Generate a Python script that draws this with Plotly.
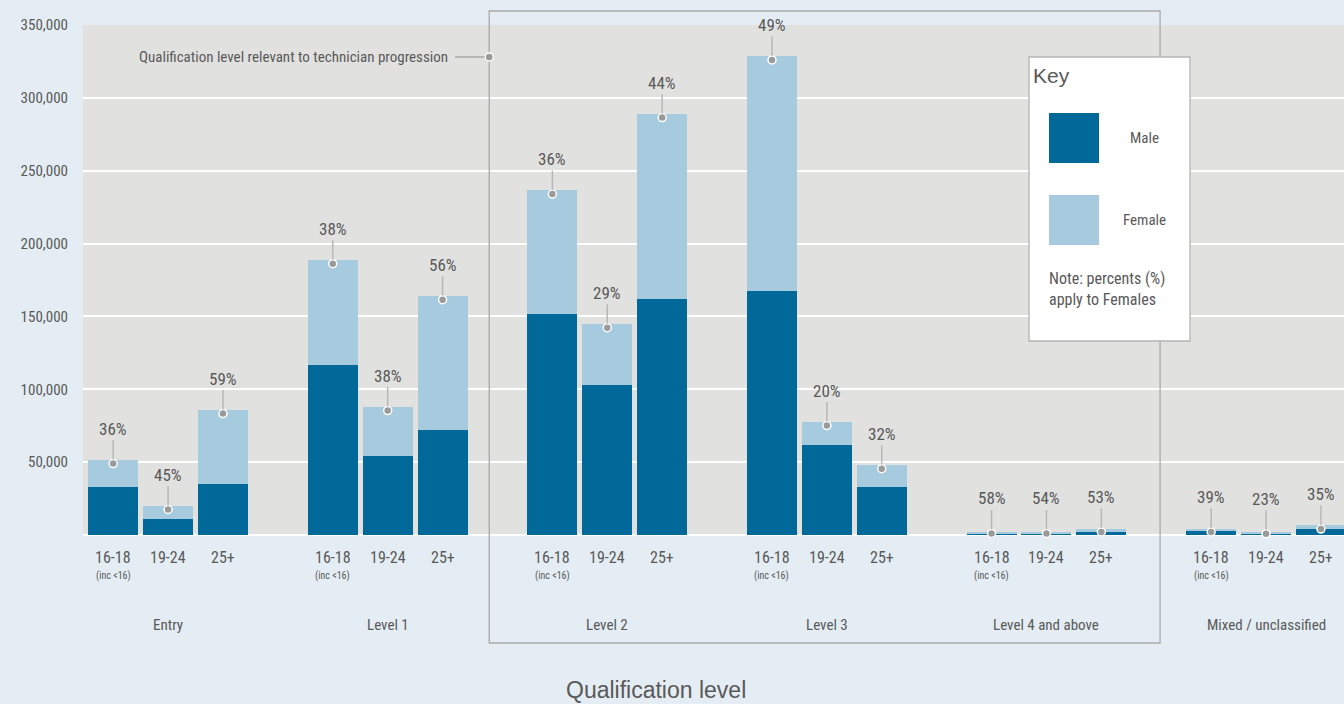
import plotly.graph_objects as go

# ---- data -------------------------------------------------------------
groups = ["Entry", "Level 1", "Level 2", "Level 3", "Level 4 and above", "Mixed / unclassified"]
ages = ["16-18", "19-24", "25+"]
# total learners per group/age band (Entry..Mixed, each 16-18, 19-24, 25+)
totals = [51500, 20000, 85800,
          188700, 87900, 164000,
          236500, 144800, 289000,
          328500, 77600, 48000,
          2200, 2200, 4100,
          4100, 1550, 6600]
# share of females, %
female_pct = [36, 45, 59,
              38, 38, 56,
              36, 29, 44,
              49, 20, 32,
              58, 54, 53,
              39, 23, 35]
y_ticks = [50000, 100000, 150000, 200000, 250000, 300000, 350000]

female = [round(t * p / 100) for t, p in zip(totals, female_pct)]
male = [t - f for t, f in zip(totals, female)]
xpos = [g * 4 + a for g in range(len(groups)) for a in range(len(ages))]
age_lbl = [ages[a] for g in range(len(groups)) for a in range(len(ages))]

# ---- styling ----------------------------------------------------------
DARK = "#01689a"
LIGHT = "#a6cbdf"
TXT = "#595959"
COND = "Roboto Condensed, DejaVu Sans Condensed, sans-serif"
REG = "Liberation Sans, Arial, sans-serif"

W, H = 1344, 704
ML, MR, MT, MB = 83, 0, 25, 169
PW, PH = W - ML - MR, H - MT - MB
XMIN, XMAX = -0.55, 22.42
YMAX = 350000


def py(pix):
    """pixel row -> paper y"""
    return (H - MB - pix) / PH


def px(pix):
    """pixel column -> paper x"""
    return (pix - ML) / PW


def xd2p(v):
    """data x -> paper x"""
    return (v - XMIN) / (XMAX - XMIN)


def label(x, y, text, size, xref="paper", xanchor="center", family=COND, **kw):
    return dict(x=x, y=y, xref=xref, yref="paper", text=text, showarrow=False,
                xanchor=xanchor, yanchor="middle",
                font=dict(family=family, size=size, color=TXT), **kw)


fig = go.Figure()
fig.add_bar(x=xpos, y=male, name="Male", marker=dict(color=DARK, line_width=0), width=0.91)
fig.add_bar(x=xpos, y=female, name="Female", marker=dict(color=LIGHT, line_width=0), width=0.91)

# marker dots near the top of each stack
dot_y = [max(t - 2500, t * 0.5) for t in totals]
fig.add_scatter(x=xpos, y=dot_y, mode="markers", cliponaxis=False,
                marker=dict(size=8, color="#9a9a9a", line=dict(color="white", width=1.5)),
                hoverinfo="skip")

ann = []
for x, yv, p in zip(xpos, dot_y, female_pct):
    ann.append(dict(x=x, y=yv, xref="x", yref="y", text=f"{p}%", showarrow=True,
                    arrowhead=0, arrowwidth=1.5, arrowcolor="#b8b8b8", ax=0, ay=-35,
                    standoff=4, font=dict(family=COND, size=17, color=TXT)))

# age band labels under each bar
for x, lab in zip(xpos, age_lbl):
    ann.append(label(x, py(557), lab, 16, xref="x"))
    if lab == "16-18":
        ann.append(label(x, py(576), "(inc <16)", 10, xref="x"))

# group labels
for g, name in enumerate(groups):
    ann.append(label(g * 4 + 1, py(625), name, 15, xref="x"))

# axis title
ann.append(label(px(656), py(690), "Qualification level", 23, family=REG))

# highlight box for technician progression levels
box_x0, box_x1 = xd2p(6.85), xd2p(19.07)
box_top, box_bot = py(11), py(643)
shapes = [dict(type="rect", xref="paper", yref="paper", x0=box_x0, x1=box_x1,
               y0=box_bot, y1=box_top, line=dict(color="#a9a9a9", width=1.3), layer="above")]
shapes.append(dict(type="line", xref="paper", yref="paper", x0=px(455), x1=box_x0,
                   y0=py(57), y1=py(57), line=dict(color="#a9a9a9", width=1.3)))
shapes.append(dict(type="circle", xref="paper", yref="paper",
                   x0=box_x0 - 4 / PW, x1=box_x0 + 4 / PW, y0=py(57) - 4 / PH, y1=py(57) + 4 / PH,
                   fillcolor="#9a9a9a", line=dict(color="white", width=1.3)))
ann.append(label(px(450), py(57), "Qualification level relevant to technician progression",
                 15, xanchor="right"))

# key panel
shapes.append(dict(type="rect", xref="paper", yref="paper", x0=px(1029), x1=px(1190),
                   y0=py(341), y1=py(57), fillcolor="white", line=dict(color="#b4b4b4", width=1.3),
                   layer="above"))
shapes.append(dict(type="rect", xref="paper", yref="paper", x0=px(1049), x1=px(1099),
                   y0=py(163), y1=py(113), fillcolor=DARK, line_width=0, layer="above"))
shapes.append(dict(type="rect", xref="paper", yref="paper", x0=px(1049), x1=px(1099),
                   y0=py(245), y1=py(195), fillcolor=LIGHT, line_width=0, layer="above"))
ann.append(label(px(1031), py(75), "Key", 21, xanchor="left", family=REG))
ann.append(label(px(1144), py(138), "Male", 15))
ann.append(label(px(1144), py(220), "Female", 15))
ann.append(label(px(1047), py(289), "Note: percents (%)<br>apply to Females", 16,
                 xanchor="left", align="left"))

fig.update_layout(
    width=W, height=H, barmode="stack", showlegend=False,
    margin=dict(l=ML, r=MR, t=MT, b=MB, pad=0),
    paper_bgcolor="#e4edf3", plot_bgcolor="#e1e1e0",
    bargap=0, annotations=ann, shapes=shapes,
    xaxis=dict(range=[XMIN, XMAX], showticklabels=False, showgrid=False, zeroline=False,
               ticks="", fixedrange=True),
    yaxis=dict(range=[0, YMAX], tickvals=y_ticks, ticktext=[f"{v:,}" for v in y_ticks],
               showgrid=True, gridcolor="white", gridwidth=1.5, zeroline=True,
               zerolinecolor="white", zerolinewidth=1.5, ticks="", ticklabelstandoff=14,
               tickfont=dict(family=COND, size=15, color=TXT), fixedrange=True),
)

fig.write_html("out.html")
